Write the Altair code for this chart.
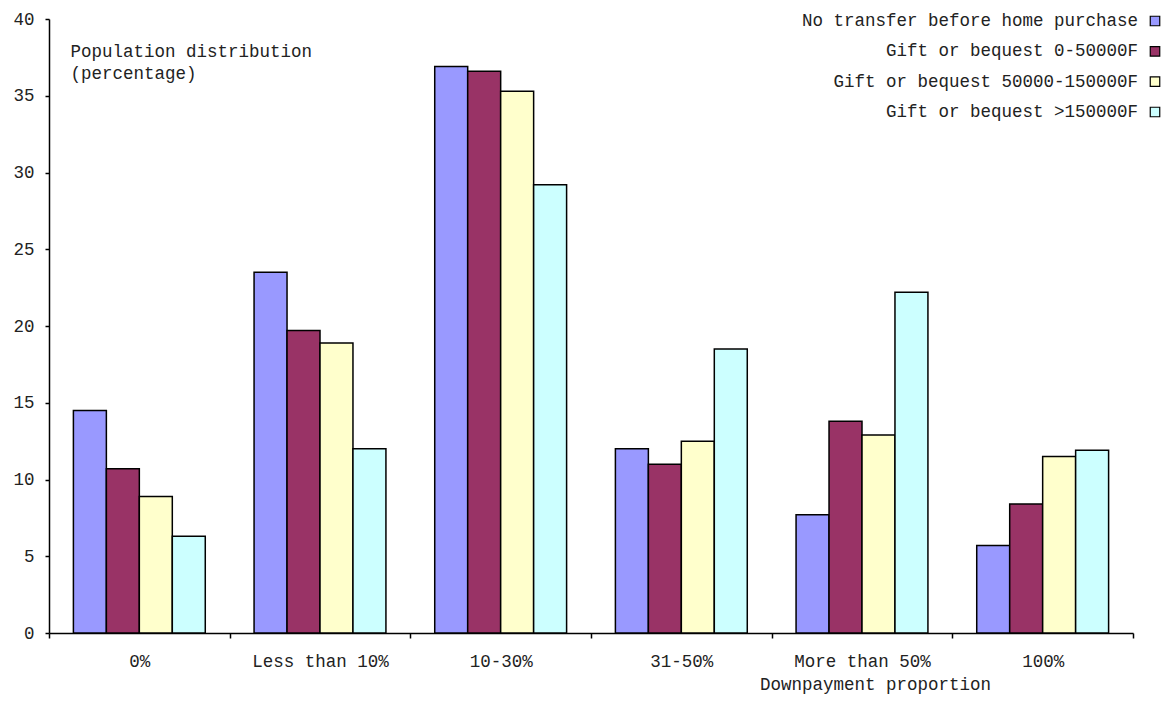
import altair as alt
import pandas as pd

categories = ["0%", "Less than 10%", "10-30%", "31-50%", "More than 50%", "100%"]
series = [
    "No transfer before home purchase",
    "Gift or bequest 0-50000F",
    "Gift or bequest 50000-150000F",
    "Gift or bequest >150000F",
]
no_transfer = [14.5, 23.5, 36.9, 12.0, 7.7, 5.7]
gift_0_50k = [10.7, 19.7, 36.6, 11.0, 13.8, 8.4]
gift_50_150k = [8.9, 18.9, 35.3, 12.5, 12.9, 11.5]
gift_150k_plus = [6.3, 12.0, 29.2, 18.5, 22.2, 11.9]
colors = ["#9999FF", "#993366", "#FFFFCC", "#CCFFFF"]
y_ticks = [0, 5, 10, 15, 20, 25, 30, 35, 40]

rows = []
for s, vals in zip(series, [no_transfer, gift_0_50k, gift_50_150k, gift_150k_plus]):
    for c, v in zip(categories, vals):
        rows.append({"category": c, "series": s, "value": v})
df = pd.DataFrame(rows)
legend_df = pd.DataFrame({"series": series})

FONT = "Liberation Mono"
FS = 17.5
TXT = "#222222"

color_scale = alt.Scale(domain=series, range=colors)

bars = alt.Chart(df).mark_bar(stroke="black", strokeWidth=1.5).encode(
    x=alt.X(
        "category:N",
        sort=categories,
        scale=alt.Scale(paddingInner=0, paddingOuter=0),
        axis=alt.Axis(
            title="Downpayment proportion",
            titleX=826,
            titleY=56,
            titleAlign="center",
            titleBaseline="alphabetic",
            titleFont=FONT,
            titleFontSize=FS,
            titleFontWeight="normal",
            titleColor=TXT,
            labelAngle=0,
            labelFont=FONT,
            labelFontSize=FS,
            labelColor=TXT,
            labelPadding=14,
            tickBand="extent",
            tickSize=5,
            tickColor="black",
            tickWidth=1.5,
            domainColor="black",
            domainWidth=1.5,
        ),
    ),
    xOffset=alt.XOffset(
        "series:N",
        sort=series,
        scale=alt.Scale(paddingOuter=0.74, paddingInner=0),
    ),
    y=alt.Y(
        "value:Q",
        scale=alt.Scale(domain=[0, 40], nice=False),
        axis=alt.Axis(
            values=y_ticks,
            title=["Population distribution", "(percentage)"],
            titleAngle=0,
            titleX=21,
            titleY=23.5,
            titleAlign="left",
            titleBaseline="top",
            titleLineHeight=22,
            titleFont=FONT,
            titleFontSize=FS,
            titleFontWeight="normal",
            titleColor=TXT,
            labelFont=FONT,
            labelFontSize=FS,
            labelColor=TXT,
            labelPadding=11,
            tickSize=4,
            tickColor="black",
            tickWidth=1.5,
            domainColor="black",
            domainWidth=1.5,
            grid=False,
        ),
    ),
    color=alt.Color("series:N", sort=series, scale=color_scale, legend=None),
)

legend_y = alt.Y(
    "series:N",
    sort=series,
    scale=alt.Scale(domain=series, range=[2, 93], padding=0),
    axis=None,
)

legend_squares = alt.Chart(legend_df).mark_square(
    size=90, stroke="black", strokeWidth=1.2, opacity=1
).encode(
    x=alt.value(1106),
    y=legend_y,
    fill=alt.Fill("series:N", scale=color_scale, legend=None),
)

legend_text = alt.Chart(legend_df).mark_text(
    align="right", baseline="middle", font=FONT, fontSize=FS, color=TXT
).encode(
    x=alt.value(1089),
    y=legend_y,
    text="series:N",
)

chart = alt.layer(bars, legend_squares, legend_text).resolve_scale(
    y="independent"
).properties(
    width=1084,
    height=614,
    padding={"left": 41, "top": 11, "right": 28, "bottom": 61},
    autosize=alt.AutoSizeParams(type="none"),
).configure_view(stroke=None)

chart.save("out.html", embed_options={"renderer": "svg", "actions": False})
